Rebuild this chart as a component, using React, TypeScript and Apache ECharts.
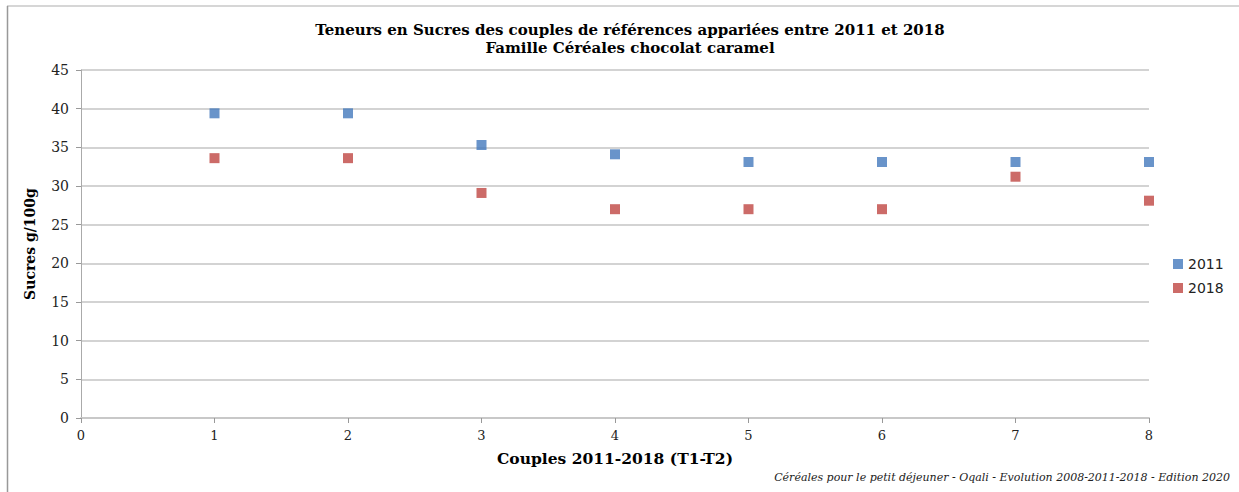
import React, { useEffect, useRef } from "react";
import * as echarts from "echarts";

const couples = [1, 2, 3, 4, 5, 6, 7, 8];
const sucres2011 = [39.4, 39.4, 35.3, 34.1, 33.1, 33.1, 33.1, 33.1];
const sucres2018 = [33.6, 33.6, 29.1, 27.0, 27.0, 27.0, 31.2, 28.1];
const seriesNames = ["2011", "2018"];
const titleLines = [
  "Teneurs en Sucres des couples de références appariées entre 2011 et 2018",
  "Famille Céréales chocolat caramel",
];
const yAxisTitle = "Sucres g/100g";
const xAxisTitle = "Couples 2011-2018 (T1-T2)";
const sourceNote = "Céréales pour le petit déjeuner - Oqali - Evolution 2008-2011-2018 - Edition 2020";

const SERIF = "'DejaVu Serif', 'Liberation Serif', serif";

export default function App() {
  const ref = useRef<HTMLDivElement>(null);
  useEffect(() => {
    if (!ref.current) return;
    const chart = echarts.init(ref.current, null, { renderer: "svg" });
    chart.setOption({
      animation: false,
      backgroundColor: "#ffffff",
      title: {
        text: titleLines.join("\n"),
        left: 625,
        top: 16,
        textAlign: "center",
        textStyle: {
          fontFamily: SERIF,
          fontWeight: "bold",
          fontSize: 15,
          lineHeight: 18,
          color: "#000",
        },
      },
      legend: {
        orient: "vertical",
        left: 1168,
        top: 252,
        itemWidth: 10,
        itemHeight: 10,
        itemGap: 10,
        icon: "rect",
        textStyle: { fontFamily: "'DejaVu Sans', sans-serif", fontSize: 14, color: "#222" },
        data: seriesNames,
      },
      grid: { left: 81, right: 90, top: 70, bottom: 74, containLabel: false },
      xAxis: {
        type: "value",
        min: 0,
        max: 8,
        interval: 1,
        name: xAxisTitle,
        nameLocation: "middle",
        nameGap: 32,
        nameTextStyle: { fontFamily: SERIF, fontWeight: "bold", fontSize: 15.5, color: "#000" },
        axisLine: { lineStyle: { color: "#c8c8c8", width: 2 } },
        axisTick: { show: true, length: 5, lineStyle: { color: "#999", width: 1 } },
        axisLabel: { fontFamily: SERIF, fontSize: 13, color: "#222", margin: 11 },
        splitLine: { show: false },
      },
      yAxis: {
        type: "value",
        min: 0,
        max: 45,
        interval: 5,
        name: yAxisTitle,
        nameLocation: "middle",
        nameRotate: 90,
        nameGap: 44,
        nameTextStyle: { fontFamily: SERIF, fontWeight: "bold", fontSize: 14, color: "#000" },
        axisLine: { show: true, lineStyle: { color: "#aaa", width: 1 } },
        axisTick: { show: true, length: 5, inside: false, lineStyle: { color: "#999" } },
        axisLabel: { fontFamily: SERIF, fontSize: 14, color: "#222", margin: 12 },
        splitLine: { show: true, lineStyle: { color: "#c4c4c4", width: 1.5 } },
      },
      series: [
        {
          name: seriesNames[0],
          type: "scatter",
          symbol: "rect",
          symbolSize: 10,
          itemStyle: { color: "#4479bd" },
          data: couples.map((c, i) => [c, sucres2011[i]]),
        },
        {
          name: seriesNames[1],
          type: "scatter",
          symbol: "rect",
          symbolSize: 10,
          itemStyle: { color: "#bf4642" },
          data: couples.map((c, i) => [c, sucres2018[i]]),
        },
      ],
      graphic: [
        { type: "line", shape: { x1: 7, y1: 6, x2: 1239, y2: 6 }, style: { stroke: "#c8c8c8", lineWidth: 1.5 } },
        { type: "line", shape: { x1: 7.5, y1: 6, x2: 7.5, y2: 492 }, style: { stroke: "#999", lineWidth: 1.5 } },
        {
          type: "text",
          right: 9,
          top: 472,
          style: {
            text: sourceNote,
            fontFamily: SERIF,
            fontStyle: "italic",
            fontSize: 11,
            fill: "#222",
          },
        },
      ],
    });
    return () => chart.dispose();
  }, []);
  return <div ref={ref} style={{ position: "fixed", left: 0, top: 0, width: 1239, height: 492 }} />;
}
